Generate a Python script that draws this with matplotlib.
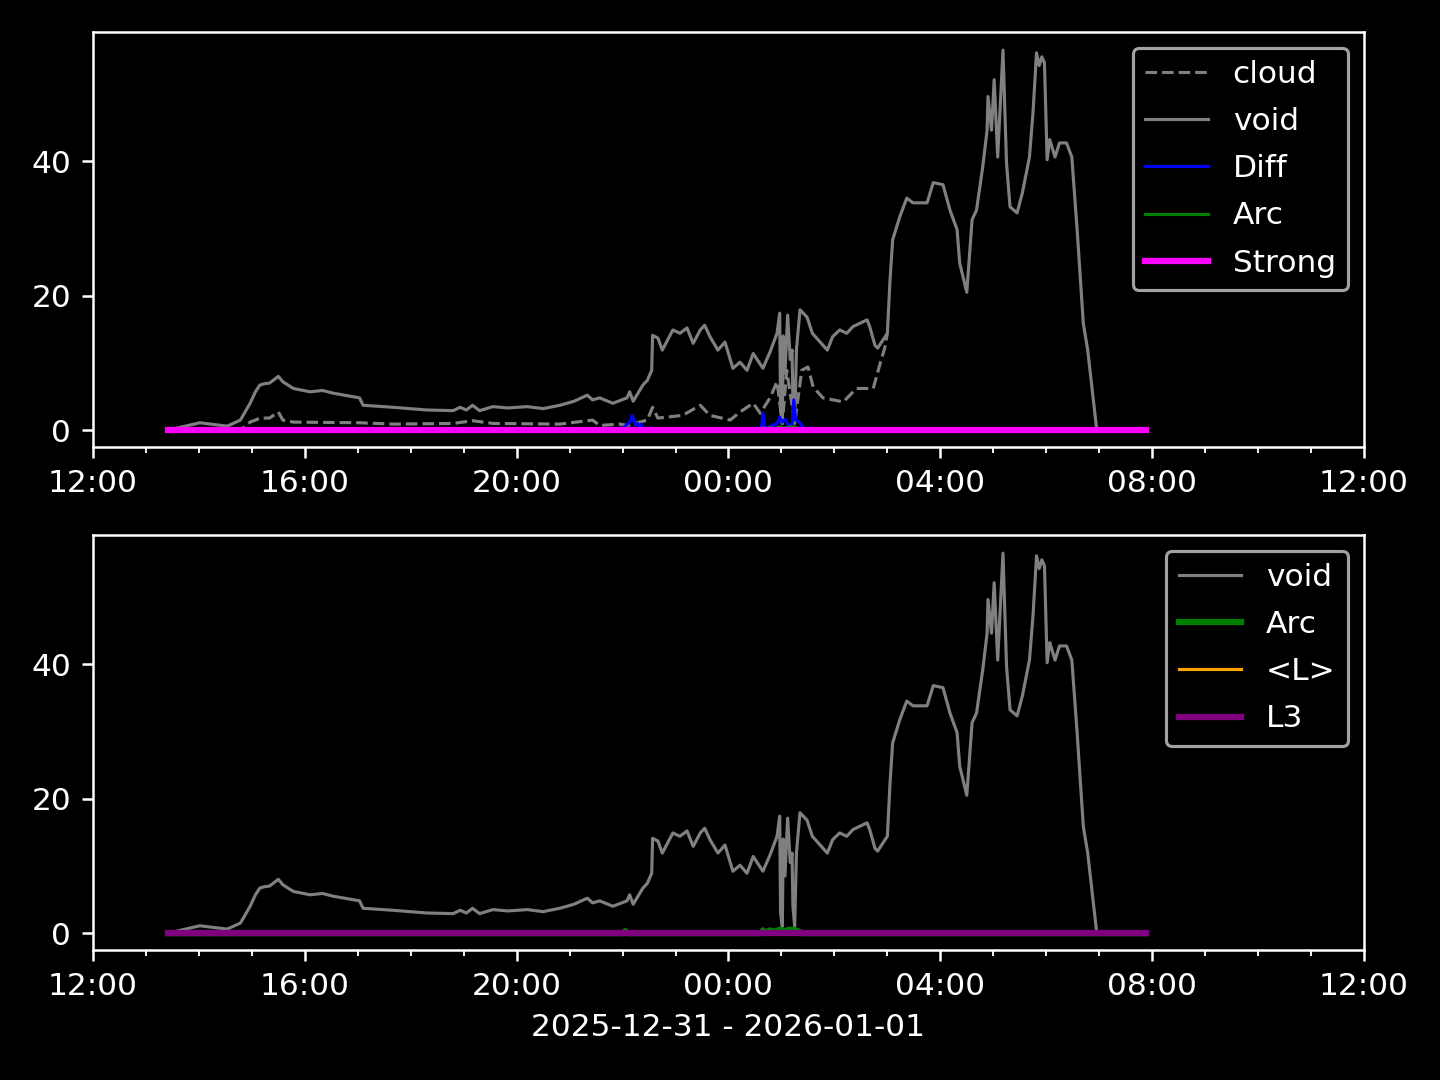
import matplotlib
matplotlib.use('Agg')
import matplotlib.pyplot as plt
import matplotlib.dates as mdates
import datetime

# readings, HH:MM (>= 12:00 is 2025-12-31, < 12:00 is 2026-01-01)
void_t = ['13:25', '14:01', '14:32', '14:47', '14:58', '15:04', '15:09', '15:14', '15:20', '15:26',
          '15:30', '15:35', '15:47', '16:06', '16:20', '16:32', '17:02', '17:06', '17:40', '18:18',
          '18:48', '18:56', '19:03', '19:10', '19:18', '19:33', '19:50', '20:12', '20:30', '20:49',
          '21:05', '21:20', '21:26', '21:34', '21:49', '22:05', '22:08', '22:12', '22:23', '22:28',
          '22:33', '22:34', '22:40', '22:45', '22:57', '23:05', '23:13', '23:20', '23:28', '23:33',
          '23:39', '23:48', '23:56', '00:05', '00:13', '00:21', '00:28', '00:39', '00:47', '00:55',
          '00:58', '00:59', '01:01', '01:02', '01:04', '01:07', '01:10', '01:12', '01:13', '01:15',
          '01:17', '01:21', '01:29', '01:35', '01:52', '01:58', '02:06', '02:14', '02:21', '02:37',
          '02:40', '02:46', '02:49', '02:55', '03:00', '03:03', '03:06', '03:14', '03:22', '03:29',
          '03:45', '03:52', '04:03', '04:11', '04:19', '04:22', '04:30', '04:36', '04:41', '04:48',
          '04:53', '04:54', '04:58', '05:01', '05:05', '05:11', '05:15', '05:19', '05:27', '05:33',
          '05:41', '05:45', '05:49', '05:52', '05:55', '05:58', '06:01', '06:04', '06:10', '06:15',
          '06:23', '06:29', '06:35', '06:42', '06:47', '06:57', '07:00', '07:53']
void_v = [0.0, 1.1, 0.6, 1.5, 4.0, 5.7, 6.7, 6.9, 7.0, 7.6,
          8.0, 7.2, 6.2, 5.7, 5.9, 5.5, 4.8, 3.7, 3.4, 3.0,
          2.9, 3.4, 3.0, 3.7, 2.9, 3.5, 3.3, 3.5, 3.2, 3.7,
          4.3, 5.2, 4.5, 4.8, 4.0, 4.8, 5.7, 4.3, 6.7, 7.4,
          8.9, 14.1, 13.7, 11.9, 14.9, 14.4, 15.2, 12.9, 14.9, 15.6,
          13.9, 11.9, 13.1, 9.2, 10.1, 8.9, 11.4, 9.2, 11.6, 14.4,
          17.4, 3.0, 1.0, 14.0, 8.5, 17.1, 10.5, 11.9, 4.0, 1.0,
          12.0, 17.9, 16.8, 14.4, 11.9, 13.9, 14.9, 14.4, 15.4, 16.4,
          15.4, 12.6, 12.2, 13.4, 14.4, 22.3, 28.3, 31.7, 34.5, 33.8,
          33.8, 36.8, 36.5, 32.7, 29.8, 24.8, 20.5, 31.3, 32.7, 39.1,
          44.6, 49.6, 44.6, 52.1, 40.6, 56.5, 39.7, 33.2, 32.3, 35.3,
          40.6, 47.2, 56.1, 54.2, 55.5, 54.6, 40.2, 43.2, 40.6, 42.7,
          42.7, 40.6, 29.8, 15.9, 11.9, 0.3, 0.0, 0.0]

cloud_t = ['13:25', '14:47', '14:58', '15:04', '15:09', '15:20', '15:30', '15:35', '15:47', '17:02',
           '17:40', '18:48', '19:10', '19:33', '20:49', '21:26', '21:34', '21:57', '22:05', '22:28',
           '22:34', '22:40', '23:08', '23:28', '23:39', '00:02', '00:13', '00:28', '00:36', '00:47',
           '00:55', '01:01', '01:06', '01:15', '01:23', '01:30', '01:36', '01:47', '02:10', '02:25',
           '02:44', '02:52', '02:57', '03:00']
cloud_v = [0.0, 0.0, 1.2, 1.5, 1.8, 1.8, 2.7, 1.5, 1.2, 1.1,
           0.9, 1.0, 1.4, 1.0, 0.9, 1.5, 0.7, 0.9, 0.7, 1.5,
           3.4, 1.8, 2.2, 3.7, 2.2, 1.5, 2.7, 4.0, 2.5, 4.8,
           7.2, 1.0, 8.9, 1.0, 8.9, 9.4, 6.4, 4.8, 4.2, 6.2,
           6.2, 10.0, 12.2, 14.4]

diff_t = ['13:25', '21:57', '22:03', '22:08', '22:11', '22:14', '22:17', '22:19', '22:21', '22:23',
          '00:37', '00:39', '00:41', '00:45', '00:55', '00:58', '01:01', '01:04', '01:08', '01:12',
          '01:14', '01:16', '01:20', '01:24', '01:27', '07:53']
diff_v = [0.0, 0.0, 0.6, 1.2, 2.2, 0.8, 1.0, 0.5, 0.9, 0.0,
          0.0, 2.5, 0.3, 0.4, 1.0, 1.9, 1.2, 1.6, 0.6, 0.8,
          4.5, 1.5, 1.2, 0.5, 0.0, 0.0]

arc_t = ['13:25', '22:01', '22:03', '22:05', '00:37', '00:39', '00:41', '00:47', '00:52', '00:58',
         '01:03', '01:09', '01:14', '01:20', '01:23', '07:53']
arc_v = [0.0, 0.0, 0.3, 0.0, 0.0, 0.4, 0.0, 0.4, 0.2, 0.5,
         0.3, 0.5, 0.5, 0.2, 0.0, 0.0]

flat_t = ['13:25', '07:53']
strong_v = [0.0, 0.0]
meanl_v = [0.0, 0.0]
l3_v = [0.0, 0.0]


def to_dt(ts):
    out = []
    for s in ts:
        h, m = map(int, s.split(':'))
        day = datetime.date(2025, 12, 31) if h >= 12 else datetime.date(2026, 1, 1)
        out.append(datetime.datetime(day.year, day.month, day.day, h, m))
    return out


plt.style.use('dark_background')
fig, (ax1, ax2) = plt.subplots(2, 1, figsize=(6.4, 4.8), dpi=225)
fig.subplots_adjust(left=0.0646, right=0.9472, top=0.9704, bottom=0.1204, hspace=0.212)

ax1.plot(to_dt(cloud_t), cloud_v, color='gray', ls='--', lw=1, label='cloud')
ax1.plot(to_dt(void_t), void_v, color='gray', lw=1, label='void')
ax1.plot(to_dt(diff_t), diff_v, color='blue', lw=1, label='Diff')
ax1.plot(to_dt(arc_t), arc_v, color='green', lw=1, label='Arc')
ax1.plot(to_dt(flat_t), strong_v, color='magenta', lw=2, label='Strong')
ax1.legend(loc='upper right', labelspacing=0.58)

ax2.plot(to_dt(void_t), void_v, color='gray', lw=1, label='void')
ax2.plot(to_dt(arc_t), arc_v, color='green', lw=2, label='Arc')
ax2.plot(to_dt(flat_t), meanl_v, color='orange', lw=1, label='<L>')
ax2.plot(to_dt(flat_t), l3_v, color='purple', lw=2, label='L3')
ax2.legend(loc='upper right', labelspacing=0.58)
ax2.set_xlabel('2025-12-31 - 2026-01-01')

for ax in (ax1, ax2):
    ax.set_xlim(datetime.datetime(2025, 12, 31, 12), datetime.datetime(2026, 1, 1, 12))
    ax.set_ylim(-2.5, 59.2)
    ax.xaxis.set_major_locator(mdates.HourLocator(byhour=[0, 4, 8, 12, 16, 20]))
    ax.xaxis.set_minor_locator(mdates.HourLocator())
    ax.xaxis.set_major_formatter(mdates.DateFormatter('%H:%M'))

fig.savefig('out.png')
